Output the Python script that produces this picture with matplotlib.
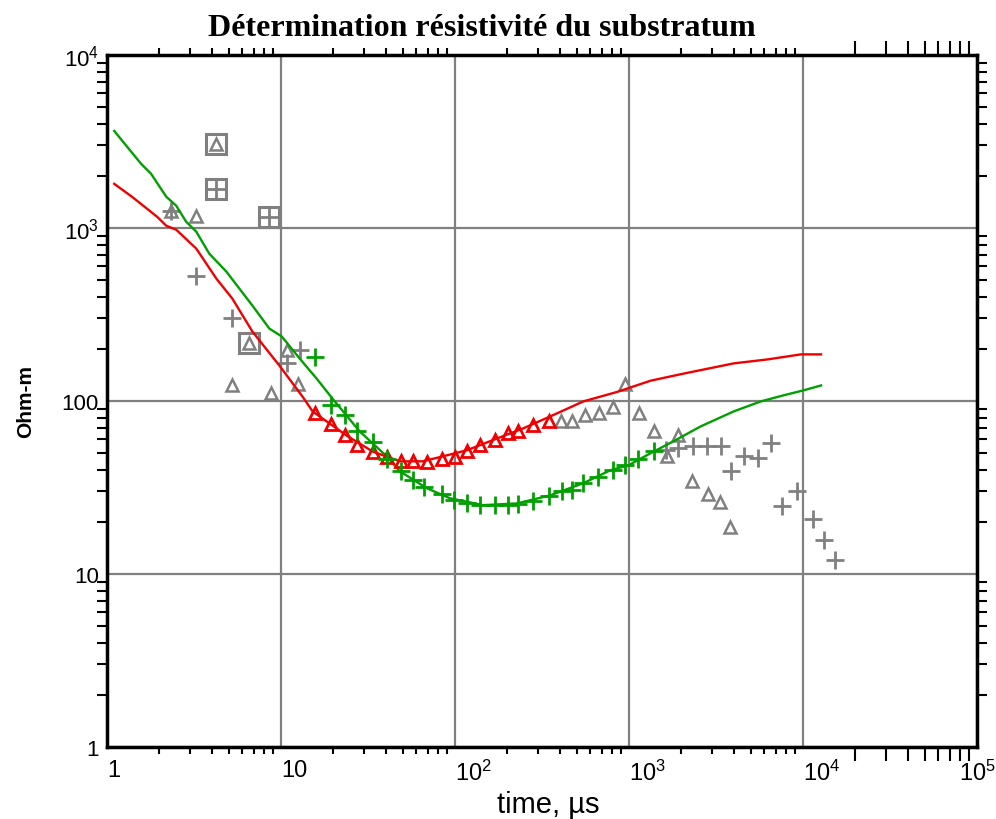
#!/usr/bin/env python3
"""
Sondage TDEM : détermination de la résistivité du substratum.
"""

import matplotlib
matplotlib.use('Agg')
import matplotlib.pyplot as plt
from matplotlib.ticker import FixedLocator, FixedFormatter, LogLocator, NullFormatter

# Courbe modèle 1 (rouge)
red_t = [1.10, 1.39, 1.94, 2.19, 2.50, 3.26, 4.25, 5.25, 6.85, 9.80, 13.3, 15.2,
         23.9, 33.7, 48.2, 65.4, 85.3, 117, 175, 247, 353, 547, 859, 1330, 2060,
         4000, 6280, 9730, 12700]
red_rho = [1800, 1517, 1162, 1031, 977, 760, 510, 391, 252, 160, 106, 87,
           63, 51, 44.8, 44.8, 47.9, 51.9, 60.8, 69.5, 81.5, 99.5, 113, 131, 144,
           165, 174, 186, 186]

# Courbe modèle 2 (verte)
green_t = [1.10, 1.57, 1.79, 2.19, 2.50, 2.85, 3.26, 3.87, 4.85, 6.85, 8.58, 10.1,
           12.8, 16.0, 19.8, 28.3, 40.5, 48.2, 69.0, 93.5, 145, 228, 353, 547, 782,
           993, 1330, 1800, 2580, 4000, 5730, 7770, 10000, 12700]
green_rho = [3640, 2350, 2060, 1517, 1345, 1087, 952, 711, 560, 356, 262, 236,
             176, 135, 103, 66.8, 47.9, 39.2, 31.3, 27.4, 25.0, 25.6, 28.5, 33.5, 39.8,
             42.5, 49.9, 58.5, 71.3, 87.1, 99.5, 108, 115, 123]

# Données utilisées (triangles rouges)
tri_t = [15.6, 19.5, 23.2, 27.2, 33.7, 40.5, 48.8, 57.3, 69.0, 84.2, 100, 117,
         139, 170, 202, 231, 282, 348]
tri_rho = [84.8, 73.3, 63.3, 55.4, 50.5, 47.3, 44.8, 44.8, 44.2, 46.0, 47.3, 51.2,
           55.4, 59.3, 65.0, 66.8, 72.3, 76.2]

# Données utilisées (croix vertes)
cross_t = [15.6, 19.5, 23.2, 27.2, 33.7, 40.5, 48.8, 57.3, 66.2, 84.2, 98.8, 117,
           139, 170, 202, 231, 282, 348, 414, 472, 547, 667, 804, 954, 1120, 1384]
cross_rho = [179, 94.3, 82.6, 66.8, 57.7, 46.0, 39.2, 34.8, 31.7, 28.9, 26.7, 25.6,
             25.0, 25.0, 25.0, 25.3, 26.4, 28.2, 30.1, 30.5, 33.5, 36.2, 39.8, 42.5, 46.0, 51.2]

# Données rejetées (gris)
gtri_t = [2.34, 3.26, 4.25, 6.58, 5.25, 8.81, 10.8, 12.6, 408, 472, 561, 676, 804,
          954, 1135, 1384, 1645, 1903, 2293, 2832, 3324, 3797]
gtri_rho = [1259, 1178, 3064, 215, 123, 111, 196, 126, 76.2, 76.2, 82.6, 84.8, 91.8,
            125, 84.8, 66.8, 47.9, 63.3, 34.4, 28.9, 26.0, 18.7]
gcross_t = [2.34, 3.26, 5.25, 10.8, 12.8, 4.25, 8.58, 1623, 1903, 2323, 2797, 3366,
            3846, 4570, 5510, 6540, 7570, 9230, 11400, 13200, 15300]
gcross_rho = [1259, 531, 300, 165, 196, 1686, 1162, 51.9, 53.2, 54.7, 54.7, 54.7,
              39.2, 47.9, 46.6, 56.9, 24.6, 30.1, 20.7, 15.7, 12.0]

# Points encadrés
box_t = [4.25, 4.25, 8.58, 6.58]
box_rho = [3064, 1686, 1162, 215]

x_ticks = [1, 10, 100, 1000, 10000, 100000]
x_labels = ['1', '10', '10$^{2}$', '10$^{3}$', '10$^{4}$', '10$^{5}$']
y_ticks = [1, 10, 100, 1000, 10000]
y_labels = ['1', '10', '100', '10$^{3}$', '10$^{4}$']


def main():
    plt.rcParams['font.family'] = ['Liberation Sans', 'DejaVu Sans']
    plt.rcParams['mathtext.fontset'] = 'custom'
    plt.rcParams['mathtext.rm'] = 'Liberation Sans'
    plt.rcParams['mathtext.it'] = 'Liberation Sans'

    grey = '#808080'
    red = '#f00000'
    green = '#00a000'

    fig = plt.figure(figsize=(9.96, 8.2), dpi=100)
    ax = fig.add_axes([107 / 996, 1 - 748 / 820, 870 / 996, 692 / 820])
    ax.set_xscale('log')
    ax.set_yscale('log')

    # Données grises
    ax.plot(gtri_t, gtri_rho, linestyle='none', marker='^', markersize=8,
            markerfacecolor='none', markeredgecolor=grey, markeredgewidth=1.8, zorder=3)
    ax.plot(gcross_t, gcross_rho, linestyle='none', marker='+', markersize=13,
            markeredgecolor=grey, markeredgewidth=2, zorder=3)
    ax.plot(box_t, box_rho, linestyle='none', marker='s', markersize=14,
            markerfacecolor='none', markeredgecolor=grey, markeredgewidth=2.2, zorder=3)

    # Modèles
    ax.plot(red_t, red_rho, color=red, linewidth=1.7, zorder=4)
    ax.plot(green_t, green_rho, color=green, linewidth=1.7, zorder=4)

    # Données utilisées
    ax.plot(tri_t, tri_rho, linestyle='none', marker='^', markersize=8.5,
            markerfacecolor='none', markeredgecolor=red, markeredgewidth=2, zorder=5)
    ax.plot(cross_t, cross_rho, linestyle='none', marker='+', markersize=13,
            markeredgecolor=green, markeredgewidth=2, zorder=5)

    ax.set_xlim(1, 1e5)
    ax.set_ylim(1, 1e4)

    ax.xaxis.set_major_locator(FixedLocator(x_ticks))
    ax.xaxis.set_major_formatter(FixedFormatter(x_labels))
    ax.yaxis.set_major_locator(FixedLocator(y_ticks))
    ax.yaxis.set_major_formatter(FixedFormatter(y_labels))
    ax.xaxis.set_minor_locator(LogLocator(base=10, subs=range(2, 10), numticks=20))
    ax.yaxis.set_minor_locator(LogLocator(base=10, subs=range(2, 10), numticks=20))
    ax.xaxis.set_minor_formatter(NullFormatter())
    ax.yaxis.set_minor_formatter(NullFormatter())

    ax.grid(True, which='major', color=grey, linewidth=1.6)
    ax.set_axisbelow(True)
    for sp in ax.spines.values():
        sp.set_linewidth(2.5)
        sp.set_color('black')

    ax.tick_params(which='major', length=0, labelsize=16)
    ax.tick_params(axis='x', which='major', pad=9, labelsize=17)
    ax.tick_params(axis='y', which='major', pad=6)
    ax.tick_params(which='minor', direction='out', length=5, width=1.5,
                   top=True, right=True, color='black')
    ax.tick_params(axis='y', which='minor', length=7)

    # Graduations mineures en x : grises, sauf la dernière décade
    locs = ax.xaxis.get_minorticklocs()
    for loc, tick in zip(locs, ax.xaxis.get_minor_ticks(len(locs))):
        if loc > 1e4:
            tick.tick1line.set_markersize(10)
            tick.tick2line.set_markersize(10)
        else:
            tick.tick1line.set_color(grey)
            tick.tick2line.set_color(grey)

    for lbl in ax.get_xticklabels():
        lbl.set_horizontalalignment('left')
    ax.get_xticklabels()[-1].set_horizontalalignment('center')

    fig.text(0.484, 0.965, 'Détermination résistivité du substratum',
             family='Liberation Serif', fontweight='bold', fontsize=23,
             ha='center', va='center')
    fig.text(0.026, 0.51, 'Ohm-m', rotation=90, fontsize=15, fontweight='bold',
             ha='center', va='center')
    fig.text(0.55, 0.018, 'time, µs', fontsize=21, ha='center', va='center')

    fig.savefig('out.png', dpi=100)


if __name__ == '__main__':
    main()
